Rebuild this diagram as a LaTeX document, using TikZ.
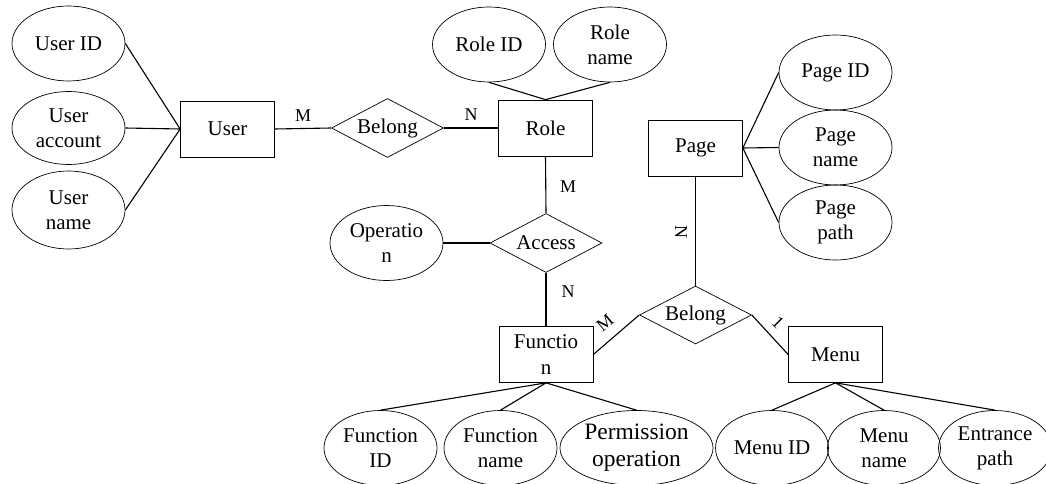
\documentclass[tikz,border=0pt]{standalone}
\usepackage{fontspec}
\setmainfont{Liberation Serif}
\usetikzlibrary{shapes.geometric}
\begin{document}
\begin{tikzpicture}[x=1pt,y=-1pt,
  attr/.style={draw,ellipse,line width=0.7pt,inner sep=0pt,minimum width=113pt,minimum height=75pt,align=center,font=\fontsize{21}{25}\selectfont},
  ent/.style={draw,rectangle,line width=0.7pt,inner sep=0pt,minimum width=94pt,minimum height=56pt,align=center,font=\fontsize{21}{26}\selectfont},
  rel/.style={draw,diamond,shape aspect=1.9,line width=0.7pt,inner sep=0pt,minimum width=112pt,minimum height=59pt,font=\fontsize{21}{25}\selectfont},
  conn/.style={line width=1.1pt},
  card/.style={font=\fontsize{18}{20}\selectfont,inner sep=0pt}]
\useasboundingbox (0,0) rectangle (1046,484);
% User
\node[ent] (user) at (227.5,129) {User};
\node[attr] (uid) at (68.5,43.5) {User ID};
\node[attr,minimum height=73pt] (uacc) at (68.5,128) {User\\account};
\node[attr,minimum height=78pt] (uname) at (68.5,210) {User\\name};
\draw[conn] (uid.east) -- (user.west);
\draw[conn] (uacc.east) -- (user.west);
\draw[conn] (uname.east) -- (user.west);
% Belong 1
\node[rel] (bel1) at (387.5,128) {Belong};
\draw[conn] (user.east) -- (bel1.west);
\node[card] (m1) at (303,116) {M};
% Role
\node[ent] (role) at (545.5,128) {Role};
\draw[conn] (bel1.east) -- (role.west);
\node[card] (n1) at (471,115) {N};
\node[attr] (rid) at (489,44.5) {Role ID};
\node[attr] (rname) at (610,44.5) {Role\\name};
\draw[conn] (rid.south) -- (role.north);
\draw[conn] (rname.south) -- (role.north);
% Access
\node[rel] (acc) at (546,243) {Access};
\draw[conn] (role.south) -- (acc.north);
\node[card] (m2) at (568,187) {M};
\node[attr] (op) at (386.5,243) {Operatio\\n};
\draw[conn] (op.east) -- (acc.west);
% Function
\node[ent] (func) at (546,354.5) {Functio\\n};
\draw[conn] (acc.south) -- (func.north);
\node[card] (n2) at (568,292) {N};
\node[attr] (fid) at (380.5,448) {Function\\ID};
\node[attr] (fname) at (500.5,448) {Function\\name};
\node[attr,minimum width=153pt,font=\fontsize{23.5}{27}\selectfont] (perm) at (636.5,448) {Permission\\operation};
\draw[conn] (func.south) -- (fid.north);
\draw[conn] (func.south) -- (fname.north);
\draw[conn] (func.south) -- (perm.north);
% Belong 2
\node[rel,minimum height=58pt] (bel2) at (695.5,315) {Belong};
\draw[conn] (func.east) -- (bel2.west);
\node[card,rotate=40] (m3) at (605,323) {M};
% Page
\node[ent] (page) at (695.5,148) {Page};
\draw[conn] (page.south) -- (bel2.north);
\node[card,rotate=-90] (n3) at (681,232) {N};
\node[attr] (pid) at (835.5,72.5) {Page ID};
\node[attr] (pname) at (835.5,147.5) {Page\\name};
\node[attr] (ppath) at (835.5,222.5) {Page\\path};
\draw[conn] (page.east) -- (pid.west);
\draw[conn] (page.east) -- (pname.west);
\draw[conn] (page.east) -- (ppath.west);
% Menu
\node[ent] (menu) at (835.5,354.5) {Menu};
\draw[conn] (bel2.east) -- (menu.west);
\node[card,rotate=-45] (one) at (778,322) {1};
\node[attr] (mid) at (772,448) {Menu ID};
\node[attr] (mname) at (884,448) {Menu\\name};
\node[attr] (epath) at (995,448) {Entrance\\path};
\draw[conn] (menu.south) -- (mid.north);
\draw[conn] (menu.south) -- (mname.north);
\draw[conn] (menu.south) -- (epath.north);
\end{tikzpicture}
\end{document}
